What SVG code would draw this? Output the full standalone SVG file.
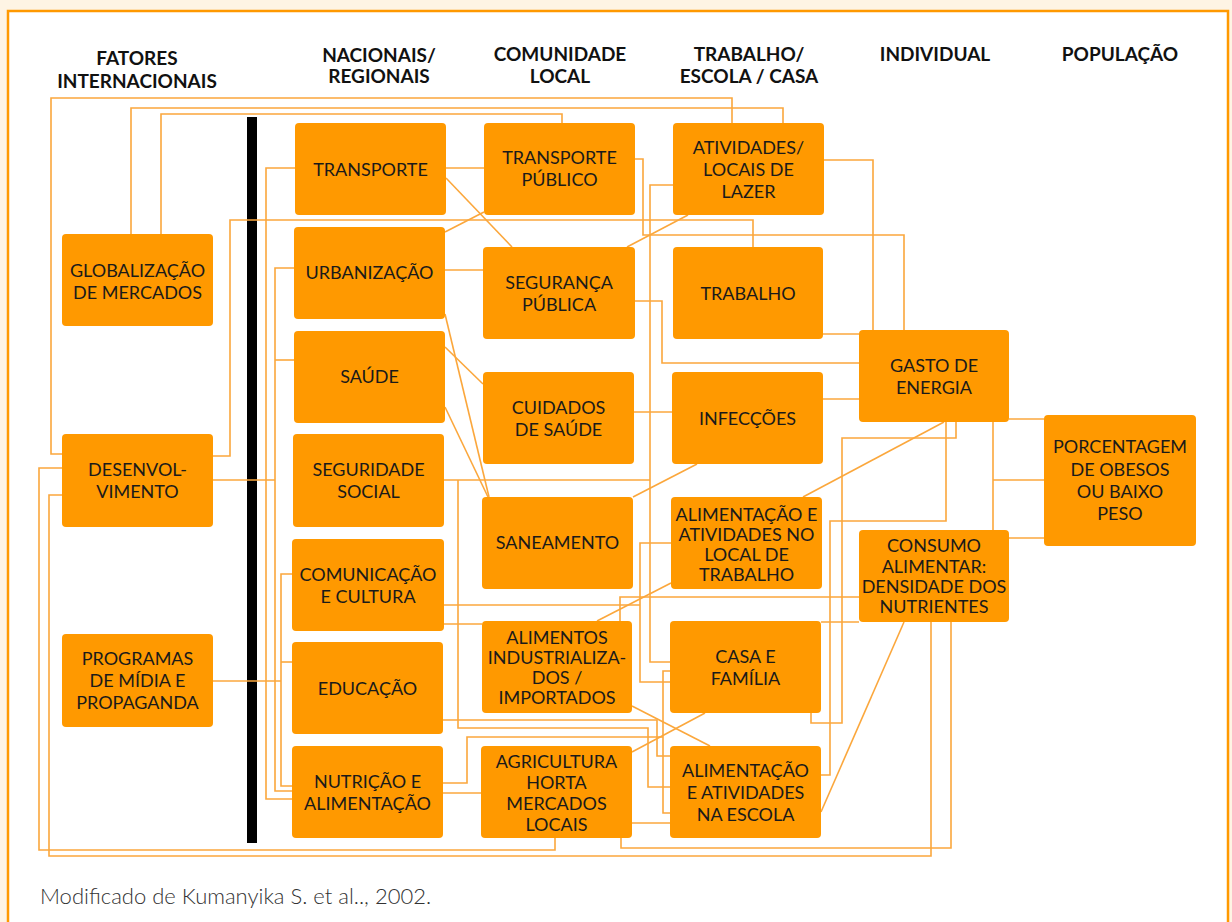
<svg xmlns="http://www.w3.org/2000/svg" width="1232" height="922" viewBox="0 0 1232 922">
<style>
.bg{fill:#fef4e4}
.frame{fill:#ffffff;stroke:#ff9900;stroke-width:2.5}
.node rect{fill:#ff9900}
.node text{font-family:Lato,"Liberation Sans",sans-serif;font-size:18px;fill:#1a1a1a;text-anchor:middle}
.hdr{font-family:Lato,"Liberation Sans",sans-serif;font-size:19px;font-weight:bold;fill:#111;text-anchor:middle}
.conn polyline,.conn line{fill:none;stroke:#fba73c;stroke-width:1.6}
.foot{font-family:Lato,"Liberation Sans",sans-serif;font-size:22px;font-weight:300;fill:#333}
</style>
<rect class="bg" x="0" y="0" width="1232" height="922"/>
<rect class="frame" x="8" y="11" width="1220" height="930"/>

<g id="headers">
<text class="hdr" x="137" y="65">FATORES</text>
<text class="hdr" x="137" y="88">INTERNACIONAIS</text>
<text class="hdr" x="379" y="62">NACIONAIS/</text>
<text class="hdr" x="379" y="83">REGIONAIS</text>
<text class="hdr" x="560" y="61">COMUNIDADE</text>
<text class="hdr" x="560" y="83">LOCAL</text>
<text class="hdr" x="749" y="61">TRABALHO/</text>
<text class="hdr" x="749" y="83">ESCOLA / CASA</text>
<text class="hdr" x="935" y="61">INDIVIDUAL</text>
<text class="hdr" x="1120" y="61">POPULAÇÃO</text>
</g>

<rect id="bar" x="247" y="117" width="10" height="726" fill="#000"/>

<g id="connectors" class="conn">
<polyline points="62,454 51,454 51,98 732,98 732,123"/>
<polyline points="131,234 131,108 783,108 783,123"/>
<polyline points="161,234 161,114 562,114 562,123"/>
<polyline points="213,456 230,456 230,220 753,220 753,247"/>
<polyline points="295,168 266,168 266,799 292,799"/>
<polyline points="294,268 275,268 275,791 292,791"/>
<line x1="275" y1="360" x2="294" y2="360"/>
<line x1="213" y1="480" x2="275" y2="480"/>
<polyline points="292,574 281,574 281,786 292,786"/>
<line x1="281" y1="662" x2="292" y2="662"/>
<line x1="213" y1="681" x2="281" y2="681"/>
<line x1="446" y1="168" x2="484" y2="168"/>
<line x1="446" y1="178" x2="512" y2="247"/>
<line x1="445" y1="232" x2="484" y2="212"/>
<line x1="445" y1="270" x2="483" y2="270"/>
<line x1="445" y1="314" x2="489" y2="497"/>
<line x1="445" y1="347" x2="483" y2="384"/>
<line x1="445" y1="407" x2="488" y2="497"/>
<line x1="444" y1="480" x2="650" y2="480"/>
<polyline points="458,480 458,728 648,728 648,787 670,787"/>
<polyline points="673,185 650,185 650,662 670,662"/>
<line x1="444" y1="605" x2="640" y2="605"/>
<line x1="444" y1="624" x2="482" y2="624"/>
<polyline points="671,543 640,543 640,682 670,682"/>
<polyline points="443,720 657,720 657,756 670,756"/>
<polyline points="443,783 467,783 467,737 663,737"/>
<polyline points="670,671 663,671 663,813 670,813"/>
<line x1="443" y1="793" x2="481" y2="793"/>
<line x1="632" y1="823" x2="670" y2="823"/>
<line x1="632" y1="706" x2="710" y2="746"/>
<line x1="705" y1="713" x2="632" y2="752"/>
<line x1="597" y1="621" x2="671" y2="583"/>
<line x1="633" y1="497" x2="697" y2="464"/>
<line x1="634" y1="412" x2="672" y2="412"/>
<line x1="627" y1="247" x2="688" y2="215"/>
<polyline points="635,159 643,159 643,235 904,235 904,330"/>
<polyline points="824,160 873,160 873,330"/>
<line x1="823" y1="334" x2="859" y2="334"/>
<polyline points="635,301 662,301 662,363 859,363"/>
<line x1="823" y1="399" x2="859" y2="399"/>
<line x1="944" y1="422" x2="803" y2="497"/>
<polyline points="956,422 956,438 842,438 842,723 811,723 811,713"/>
<polyline points="946,422 946,521 830,521 830,775 821,775"/>
<line x1="993" y1="422" x2="993" y2="530"/>
<line x1="993" y1="480" x2="1044" y2="480"/>
<line x1="1009" y1="419" x2="1044" y2="419"/>
<line x1="1009" y1="538" x2="1044" y2="538"/>
<polyline points="620,621 620,597 859,597"/>
<line x1="821" y1="622" x2="859" y2="622"/>
<line x1="904" y1="622" x2="821" y2="812"/>
<polyline points="951,622 951,848 621,848 621,838"/>
<polyline points="931,622 931,856 49,856 49,495 62,495"/>
<polyline points="62,468 39,468 39,850 555,850 555,838"/>
</g>

<g id="n-globalizacao" class="node"><rect x="62" y="234" width="151" height="92" rx="4"/><text><tspan x="137.5" y="277">GLOBALIZAÇÃO</tspan><tspan x="137.5" y="299">DE MERCADOS</tspan></text></g>
<g id="n-desenvolvimento" class="node"><rect x="62" y="434" width="151" height="93" rx="4"/><text><tspan x="137.5" y="476">DESENVOL-</tspan><tspan x="137.5" y="498">VIMENTO</tspan></text></g>
<g id="n-programas" class="node"><rect x="62" y="634" width="151" height="93" rx="4"/><text><tspan x="137.5" y="665">PROGRAMAS</tspan><tspan x="137.5" y="687">DE MÍDIA E</tspan><tspan x="137.5" y="709">PROPAGANDA</tspan></text></g>

<g id="n-transporte" class="node"><rect x="295" y="123" width="151" height="92" rx="4"/><text x="370.5" y="176">TRANSPORTE</text></g>
<g id="n-urbanizacao" class="node"><rect x="294" y="227" width="151" height="92" rx="4"/><text x="369.5" y="279">URBANIZAÇÃO</text></g>
<g id="n-saude" class="node"><rect x="294" y="331" width="151" height="92" rx="4"/><text x="369.5" y="383">SAÚDE</text></g>
<g id="n-seguridade" class="node"><rect x="293" y="434" width="151" height="93" rx="4"/><text><tspan x="368.5" y="476">SEGURIDADE</tspan><tspan x="368.5" y="498">SOCIAL</tspan></text></g>
<g id="n-comunicacao" class="node"><rect x="292" y="539" width="152" height="92" rx="4"/><text><tspan x="368" y="581">COMUNICAÇÃO</tspan><tspan x="368" y="603">E CULTURA</tspan></text></g>
<g id="n-educacao" class="node"><rect x="292" y="642" width="151" height="92" rx="4"/><text x="367.5" y="695">EDUCAÇÃO</text></g>
<g id="n-nutricao" class="node"><rect x="292" y="746" width="151" height="92" rx="4"/><text><tspan x="367.5" y="788">NUTRIÇÃO E</tspan><tspan x="367.5" y="810">ALIMENTAÇÃO</tspan></text></g>

<g id="n-transporte-publico" class="node"><rect x="484" y="123" width="151" height="92" rx="4"/><text><tspan x="559.5" y="164">TRANSPORTE</tspan><tspan x="559.5" y="186">PÚBLICO</tspan></text></g>
<g id="n-seguranca" class="node"><rect x="483" y="247" width="152" height="92" rx="4"/><text><tspan x="559" y="289">SEGURANÇA</tspan><tspan x="559" y="311">PÚBLICA</tspan></text></g>
<g id="n-cuidados" class="node"><rect x="483" y="372" width="151" height="92" rx="4"/><text><tspan x="558.5" y="414">CUIDADOS</tspan><tspan x="558.5" y="436">DE SAÚDE</tspan></text></g>
<g id="n-saneamento" class="node"><rect x="482" y="497" width="151" height="92" rx="4"/><text x="557.5" y="549">SANEAMENTO</text></g>
<g id="n-alimentos" class="node"><rect x="482" y="621" width="150" height="92" rx="4"/><text><tspan x="557" y="644">ALIMENTOS</tspan><tspan x="557" y="664">INDUSTRIALIZA-</tspan><tspan x="557" y="684">DOS /</tspan><tspan x="557" y="704">IMPORTADOS</tspan></text></g>
<g id="n-agricultura" class="node"><rect x="481" y="746" width="151" height="92" rx="4"/><text><tspan x="556.5" y="768">AGRICULTURA</tspan><tspan x="556.5" y="789">HORTA</tspan><tspan x="556.5" y="810">MERCADOS</tspan><tspan x="556.5" y="831">LOCAIS</tspan></text></g>

<g id="n-atividades" class="node"><rect x="673" y="123" width="151" height="92" rx="4"/><text><tspan x="748.5" y="154">ATIVIDADES/</tspan><tspan x="748.5" y="176">LOCAIS DE</tspan><tspan x="748.5" y="198">LAZER</tspan></text></g>
<g id="n-trabalho" class="node"><rect x="673" y="247" width="150" height="92" rx="4"/><text x="748" y="300">TRABALHO</text></g>
<g id="n-infeccoes" class="node"><rect x="672" y="372" width="151" height="92" rx="4"/><text x="747.5" y="425">INFECÇÕES</text></g>
<g id="n-alim-trabalho" class="node"><rect x="671" y="497" width="151" height="92" rx="4"/><text><tspan x="746.5" y="521">ALIMENTAÇÃO E</tspan><tspan x="746.5" y="541">ATIVIDADES NO</tspan><tspan x="746.5" y="561">LOCAL DE</tspan><tspan x="746.5" y="581">TRABALHO</tspan></text></g>
<g id="n-casa" class="node"><rect x="670" y="621" width="151" height="92" rx="4"/><text><tspan x="745.5" y="663">CASA E</tspan><tspan x="745.5" y="685">FAMÍLIA</tspan></text></g>
<g id="n-alim-escola" class="node"><rect x="670" y="746" width="151" height="92" rx="4"/><text><tspan x="745.5" y="777">ALIMENTAÇÃO</tspan><tspan x="745.5" y="799">E ATIVIDADES</tspan><tspan x="745.5" y="821">NA ESCOLA</tspan></text></g>

<g id="n-gasto" class="node"><rect x="859" y="330" width="150" height="92" rx="4"/><text><tspan x="934" y="372">GASTO DE</tspan><tspan x="934" y="394">ENERGIA</tspan></text></g>
<g id="n-consumo" class="node"><rect x="859" y="530" width="150" height="92" rx="4"/><text><tspan x="934" y="552">CONSUMO</tspan><tspan x="934" y="573">ALIMENTAR:</tspan><tspan x="934" y="593">DENSIDADE DOS</tspan><tspan x="934" y="613">NUTRIENTES</tspan></text></g>
<g id="n-porcentagem" class="node"><rect x="1044" y="415" width="152" height="131" rx="4"/><text><tspan x="1120" y="453">PORCENTAGEM</tspan><tspan x="1120" y="476">DE OBESOS</tspan><tspan x="1120" y="498">OU BAIXO</tspan><tspan x="1120" y="520">PESO</tspan></text></g>

<text class="foot" x="40" y="904">Modificado de Kumanyika S. et al.., 2002.</text>
</svg>
